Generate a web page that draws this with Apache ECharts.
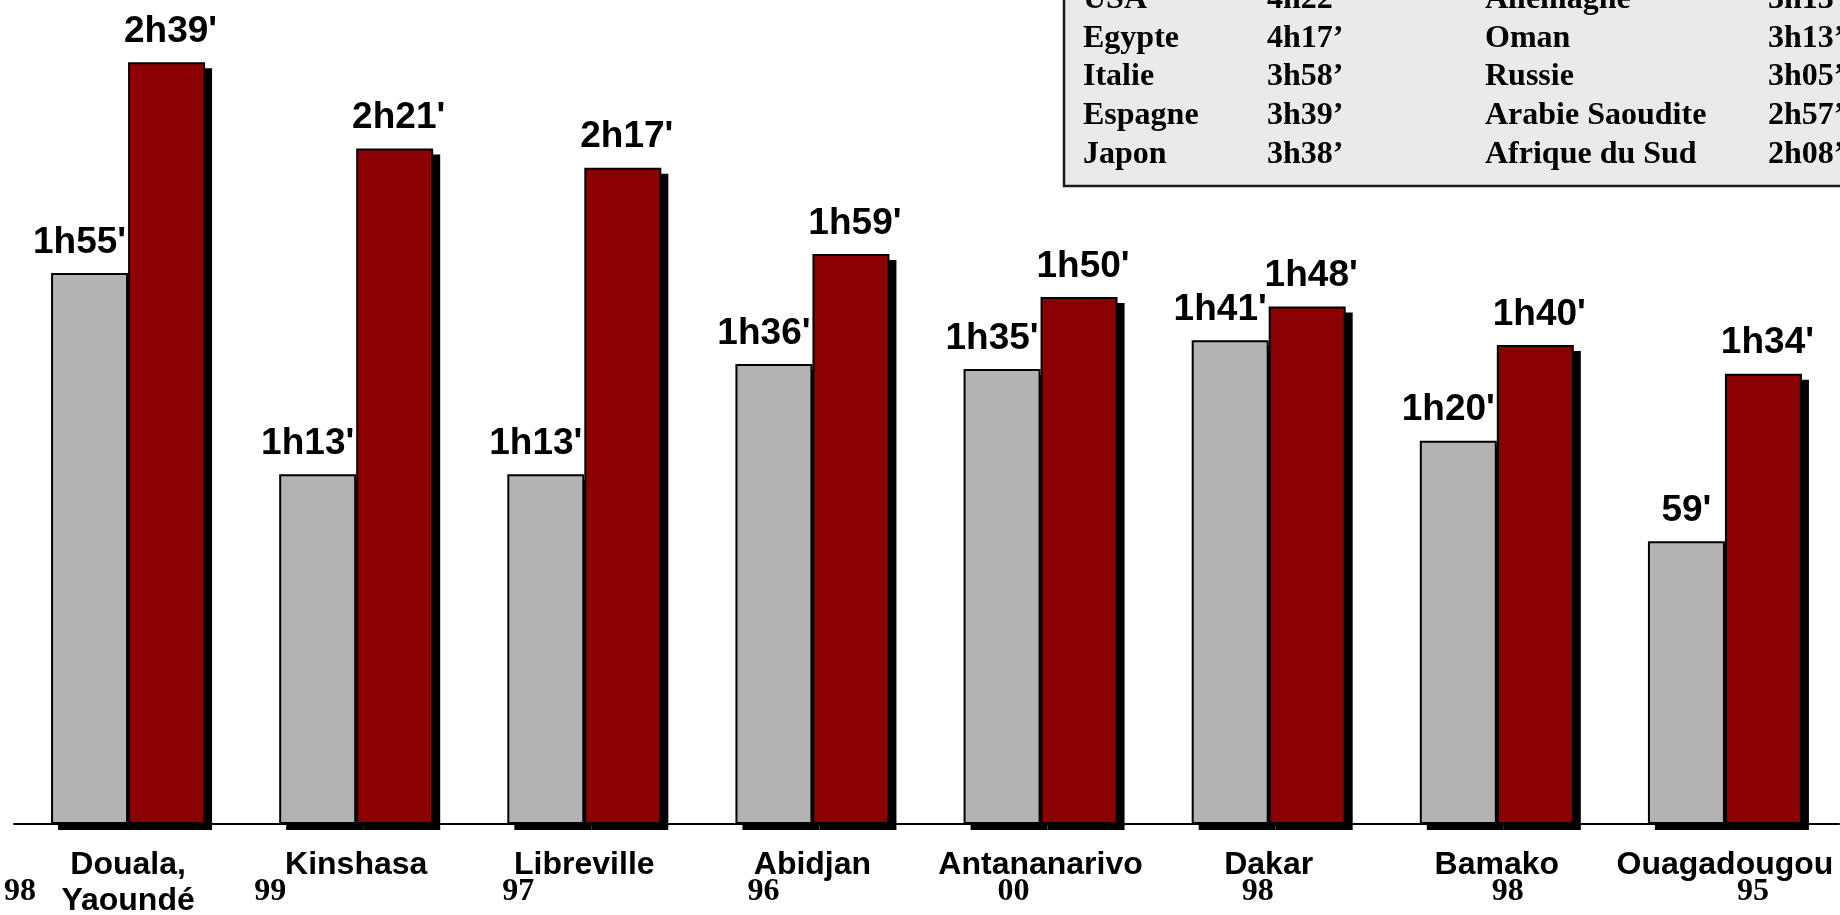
<!DOCTYPE html>
<html>
<head>
<meta charset="utf-8">
<script src="https://cdn.jsdelivr.net/npm/echarts@6/dist/echarts.min.js"></script>
<style>
  html, body { margin: 0; padding: 0; background: #fff; }
  #chart { width: 1840px; height: 915px; }
</style>
</head>
<body>
<div id="chart"></div>
<script>
// villes et année de l'enquête
const cities = ['Douala,\nYaoundé', 'Kinshasa', 'Libreville', 'Abidjan', 'Antananarivo', 'Dakar', 'Bamako', 'Ouagadougou'];
const years = ['98', '99', '97', '96', '00', '98', '98', '95'];

// durées en minutes
const grayMinutes = [115, 73, 73, 96, 95, 101, 80, 59];
const redMinutes = [159, 141, 137, 119, 110, 108, 100, 94];

// tableau en haut à droite
const tableLeftNames = ['USA', 'Egypte', 'Italie', 'Espagne', 'Japon'];
const tableLeftTimes = ['4h22’', '4h17’', '3h58’', '3h39’', '3h38’'];
const tableRightNames = ['Allemagne', 'Oman', 'Russie', 'Arabie Saoudite', 'Afrique du Sud'];
const tableRightTimes = ['3h13’', '3h13’', '3h05’', '2h57’', '2h08’'];

// décalage horizontal des années (px) par rapport au centre de la catégorie
const yearShift = [-108, -86, -66, -49, -27, -11, 11, 28];

const SANS = "'Liberation Sans', Arial, sans-serif";
const SERIF = "'Liberation Serif', 'Times New Roman', serif";
const BAR_W = 77;

function fmt(v) {
  if (v < 60) return v + "'";
  const m = v % 60;
  return Math.floor(v / 60) + 'h' + (m < 10 ? '0' + m : m) + "'";
}

const chart = echarts.init(document.getElementById('chart'), null, { renderer: 'canvas' });

const yearRich = { y: { fontFamily: SERIF, fontWeight: 'bold', fontSize: 32, color: '#000' } };
yearShift.forEach((s, i) => {
  yearRich['g' + i] = { width: Math.abs(s) * 2, fontSize: 32 };
});

const labelBase = {
  show: true,
  position: 'top',
  distance: 12,
  fontFamily: SANS,
  fontWeight: 'bold',
  fontSize: 37,
  color: '#000',
  formatter: p => fmt(p.value)
};

// ombre portée noire derrière chaque paire de barres
function renderShadow(params, api) {
  const i = api.value(0);
  const base = api.coord([i, 0]);
  const g = api.coord([i, api.value(1)]);
  const r = api.coord([i, api.value(2)]);
  const dx = 7, dy = 6;
  return {
    type: 'group',
    children: [
      { type: 'rect', shape: { x: base[0] - BAR_W + dx, y: g[1] + dy, width: BAR_W, height: base[1] - g[1] }, style: { fill: '#000' } },
      { type: 'rect', shape: { x: base[0] + dx, y: r[1] + dy, width: BAR_W, height: base[1] - r[1] }, style: { fill: '#000' } }
    ]
  };
}

// tableau (annotation)
const tableRows = [];
const rowY = i => -0.2 + i * 38.7;
tableLeftNames.forEach((n, i) => {
  const y = rowY(i);
  const st = { fontFamily: SERIF, fontWeight: 'bold', fontSize: 32, fill: '#000', verticalAlign: 'middle' };
  tableRows.push({ type: 'text', x: 1083, y, style: Object.assign({ text: n }, st) });
  tableRows.push({ type: 'text', x: 1267, y, style: Object.assign({ text: tableLeftTimes[i] }, st) });
  tableRows.push({ type: 'text', x: 1485, y, style: Object.assign({ text: tableRightNames[i] }, st) });
  tableRows.push({ type: 'text', x: 1768, y, style: Object.assign({ text: tableRightTimes[i] }, st) });
});

const option = {
  animation: false,
  backgroundColor: '#fff',
  grid: { left: 14, right: 1, top: 0, bottom: 91, outerBoundsMode: 'none', containLabel: false },
  xAxis: [
    {
      type: 'category',
      data: cities,
      axisLine: { lineStyle: { color: '#000', width: 2 } },
      axisTick: { show: false },
      axisLabel: {
        interval: 0,
        hideOverlap: false,
        margin: 23,
        fontFamily: SANS,
        fontWeight: 'bold',
        fontSize: 32,
        lineHeight: 36,
        color: '#000'
      }
    },
    {
      type: 'category',
      position: 'bottom',
      data: years,
      axisLine: { show: false },
      axisTick: { show: false },
      axisLabel: {
        interval: 0,
        hideOverlap: false,
        margin: 52,
        formatter: (v, i) => yearShift[i] < 0 ? `{y|${v}}{g${i}| }` : `{g${i}| }{y|${v}}`,
        rich: yearRich
      }
    }
  ],
  yAxis: { type: 'value', min: 0, max: 172, show: false, splitLine: { show: false } },
  series: [
    {
      type: 'custom',
      z: 1,
      silent: true,
      renderItem: renderShadow,
      encode: { x: 0, y: [1, 2] },
      data: grayMinutes.map((v, i) => [i, v, redMinutes[i]])
    },
    {
      type: 'bar',
      z: 2,
      barWidth: BAR_W,
      barGap: '0%',
      data: grayMinutes.map(v => ({
        value: v,
        label: { offset: [v < 60 ? 0 : -10, 0] }
      })),
      itemStyle: { color: '#b3b3b3', borderColor: '#000', borderWidth: 2 },
      label: labelBase
    },
    {
      type: 'bar',
      z: 2,
      barWidth: BAR_W,
      barGap: '0%',
      data: redMinutes,
      itemStyle: { color: '#8b0000', borderColor: '#000', borderWidth: 2 },
      label: Object.assign({ offset: [4, 0] }, labelBase)
    }
  ],
  graphic: [
    {
      type: 'group',
      z: 100,
      children: [
        {
          type: 'rect',
          shape: { x: 1064, y: -10, width: 800, height: 196 },
          style: { fill: '#eaeaea', stroke: '#1a1a1a', lineWidth: 2.5 }
        }
      ].concat(tableRows)
    }
  ]
};

chart.setOption(option);
</script>
</body>
</html>
